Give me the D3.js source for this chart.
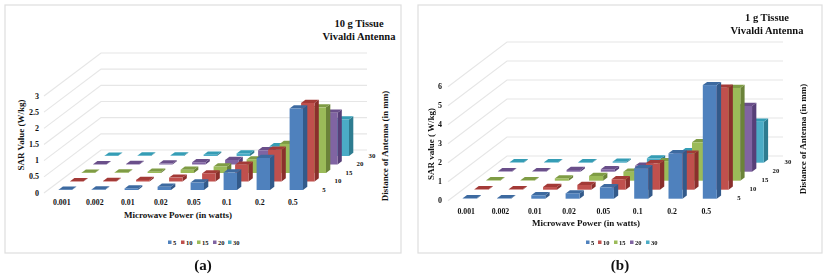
<!DOCTYPE html>
<html><head><meta charset="utf-8">
<script src="https://cdn.jsdelivr.net/npm/d3@7"></script>
<style>html,body{margin:0;padding:0;background:#fff}svg{display:block;filter:blur(0.35px)}text{font-family:"Liberation Serif",serif;font-weight:bold;fill:#111}</style>
</head><body><svg id="c" width="831" height="275"></svg>
<script>
const categories = ["0.001","0.002","0.01","0.02","0.05","0.1","0.2","0.5"];
const seriesNames = ["5","10","15","20","30"];
const colors = {
  front: ["#4F81BD","#C0504D","#9BBB59","#8064A2","#4BACC6"],
  side:  ["#335A8A","#8A2F2C","#6B8339","#573F78","#2E7C90"],
  top:   ["#3D6AA0","#A33A37","#7F9C45","#6A4F8A","#359DB5"]
};
// panel (a) values: rows = series 5,10,15,20,30
const sarA5  = [0.01,0.015,0.05,0.10,0.23,0.54,0.99,2.52];
const sarA10 = [0.01,0.015,0.05,0.12,0.25,0.52,0.98,2.43];
const sarA15 = [0.01,0.015,0.04,0.10,0.20,0.42,0.90,2.03];
const sarA20 = [0.01,0.015,0.03,0.07,0.14,0.44,0.75,1.60];
const sarA30 = [0.01,0.015,0.02,0.04,0.08,0.30,0.50,1.13];
// panel (b) values
const sarB5  = [0.02,0.02,0.18,0.28,0.60,1.60,2.39,5.98];
const sarB10 = [0.02,0.02,0.14,0.25,0.55,1.39,1.90,5.37];
const sarB15 = [0.02,0.02,0.12,0.25,0.47,1.03,2.02,4.88];
const sarB20 = [0.02,0.02,0.09,0.13,0.32,0.80,1.20,3.46];
const sarB30 = [0.02,0.02,0.03,0.05,0.23,0.60,0.90,2.16];
const yTicksA = [0,0.5,1,1.5,2,2.5,3];
const yTicksB = [0,1,2,3,4,5,6];

const panels = [
 {data:[sarA5,sarA10,sarA15,sarA20,sarA30], ticks:yTicksA, max:3,
  box:[5,5,396,248], x0:58.6, step:33, w:13.4, baseY:190, rowDx:11.5, rowDy:8.5,
  wallFront:[44,193], wallBack:[101,150], wallEnd:367, wallH:97,
  tickX:39, catY:205, catOff:-3.5, title:["10 g Tissue","Vivaldi Antenna"], titleX:359, titleY:[27,40],
  yTitle:"SAR Value (W/kg)", yTitleX:24, yTitleY:135, xTitleX:178, xTitleY:218,
  dTitle:"Distance of Antenna  (in mm)", dTitleX:388, dTitleY:146,
  depth:[[324,191.5],[338,183],[349,174.5],[360,165.5],[372,157.5]],
  legend:[168,181,197,213,228], sub:"(a)", subX:203},
 {data:[sarB5,sarB10,sarB15,sarB20,sarB30], ticks:yTicksB, max:6,
  box:[418,5,404,248], x0:462.7, step:34.3, w:14, baseY:198.7, rowDx:11.75, rowDy:9,
  wallFront:[448,200.7], wallBack:[507,156], wallEnd:783, wallH:114,
  tickX:442, catY:214, catOff:-3.5, title:["1 g Tissue","Vivaldi Antenna"], titleX:767, titleY:[21,34],
  yTitle:"SAR value ( W/kg)", yTitleX:434, yTitleY:144, xTitleX:586, xTitleY:226,
  dTitle:"Distance of Antenna  (in mm)", dTitleX:806, dTitleY:139,
  depth:[[739,199.5],[753,190.5],[765,181.5],[776,172.5],[788,163.5]],
  legend:[586,598,614,630,646], sub:"(b)", subX:620}
];
const svg = d3.select("#c");
const grid = "#e6e6e6", dx = 4.3, dy = 3.2;

panels.forEach(p => {
  const g = svg.append("g");
  g.append("rect").attr("x",p.box[0]).attr("y",p.box[1]).attr("width",p.box[2]).attr("height",p.box[3])
    .attr("fill","#fff").attr("stroke","#dedede").attr("stroke-width",1.2);
  const x = d3.scalePoint().domain(categories).range([p.x0, p.x0 + p.step*(categories.length-1)]);
  const rowX = d3.scalePoint().domain(seriesNames).range([0, p.rowDx*4]);
  const rowY = d3.scalePoint().domain(seriesNames).range([0, p.rowDy*4]);
  const h = d3.scaleLinear().domain([0,p.max]).range([0,p.wallH]);

  p.ticks.forEach(t => {
    const yF = p.wallFront[1]-h(t), yB = p.wallBack[1]-h(t);
    g.append("path").attr("d",`M${p.wallFront[0]},${yF}L${p.wallBack[0]},${yB}L${p.wallEnd},${yB}`)
      .attr("fill","none").attr("stroke",grid).attr("stroke-width",1.1);
    g.append("text").attr("x",p.tickX).attr("y",yF+2.5).attr("text-anchor","end").attr("font-size",8).text(t);
  });

  for (let s = seriesNames.length-1; s >= 0; s--) {
    const name = seriesNames[s];
    categories.forEach((c,j) => {
      const v = p.data[s][j];
      const xl = x(c)+rowX(name), yb = p.baseY-rowY(name), yt = yb-h(v), xr = xl+p.w;
      g.append("path").attr("fill",colors.side[s])
        .attr("d",`M${xr},${yb}L${xr},${yt}L${xr+dx},${yt-dy}L${xr+dx},${yb-dy}Z`);
      g.append("path").attr("fill",colors.top[s])
        .attr("d",`M${xl},${yt}L${xr},${yt}L${xr+dx},${yt-dy}L${xl+dx},${yt-dy}Z`);
      g.append("rect").attr("x",xl).attr("y",yt).attr("width",p.w).attr("height",yb-yt).attr("fill",colors.front[s]);
    });
  }

  categories.forEach(c => g.append("text").attr("x",x(c)+p.w/2+p.catOff).attr("y",p.catY)
    .attr("text-anchor","middle").attr("font-size",7.8).text(c));
  seriesNames.forEach((n,i) => {
    g.append("text").attr("x",p.depth[i][0]).attr("y",p.depth[i][1]).attr("text-anchor","middle").attr("font-size",6.8).text(n);
    g.append("rect").attr("x",p.legend[i]).attr("y",240.5).attr("width",3.5).attr("height",3.5).attr("fill",colors.front[i]);
    g.append("text").attr("x",p.legend[i]+5).attr("y",245).attr("font-size",6.5).text(n);
  });
  p.title.forEach((t,i) => g.append("text").attr("x",p.titleX).attr("y",p.titleY[i]).attr("text-anchor","middle").attr("font-size",10.5).text(t));
  g.append("text").attr("x",p.xTitleX).attr("y",p.xTitleY).attr("text-anchor","middle").attr("font-size",9).text("Microwave Power (in watts)");
  g.append("text").attr("transform",`translate(${p.yTitleX},${p.yTitleY}) rotate(-90)`).attr("text-anchor","middle").attr("font-size",9).text(p.yTitle);
  g.append("text").attr("transform",`translate(${p.dTitleX},${p.dTitleY}) rotate(-90)`).attr("text-anchor","middle").attr("font-size",9).text(p.dTitle);
  g.append("text").attr("x",p.subX).attr("y",270).attr("text-anchor","middle").attr("font-size",15).text(p.sub);
});
</script></body></html>
